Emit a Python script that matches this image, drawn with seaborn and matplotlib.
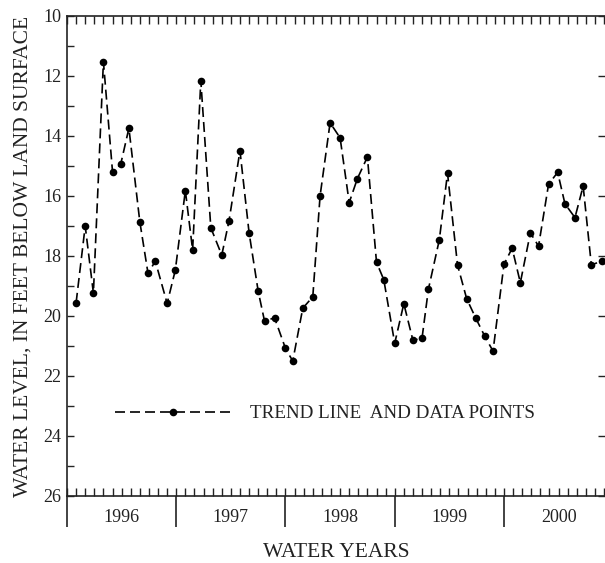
import numpy as np
import pandas as pd
import matplotlib
matplotlib.use("Agg")
import matplotlib.pyplot as plt
import seaborn as sns

#------------------------------------------------Datos------------------------------------------------

# months since start of water year 1996 (Oct 1995)
months = [1.0, 2.0, 2.9, 4.0, 5.0, 5.9, 6.8, 8.0, 8.9, 9.7,
          11.0, 11.9, 13.0, 13.8, 14.7, 15.8, 17.0, 17.8, 19.0, 20.0,
          21.0, 21.7, 22.8, 24.0, 24.8, 25.9, 27.0, 27.8, 28.9, 30.0,
          31.0, 31.9, 33.0, 34.0, 34.8, 36.0, 37.0, 38.0, 39.0, 39.7,
          40.9, 41.8, 42.9, 43.9, 44.9, 45.9, 46.8, 48.0, 48.9, 49.8,
          50.9, 51.8, 52.9, 53.9, 54.7, 55.8, 56.7, 57.6, 58.8]

levels = [19.56, 17.0, 19.24, 11.52, 15.19, 14.94, 13.74, 16.86, 18.58, 18.17,
          19.58, 18.47, 15.82, 17.8, 12.16, 17.06, 17.97, 16.83, 14.49, 17.22,
          19.17, 20.17, 20.06, 21.08, 21.5, 19.74, 19.36, 16.0, 13.56, 14.06,
          16.22, 15.42, 14.7, 18.21, 18.79, 20.91, 19.59, 20.81, 20.74, 19.11,
          17.46, 15.24, 18.3, 19.42, 20.07, 20.68, 21.17, 18.28, 17.74, 18.89,
          17.23, 17.67, 15.61, 15.21, 16.26, 16.72, 15.67, 18.3, 18.16]

water_years = ["1996", "1997", "1998", "1999", "2000"]

df = pd.DataFrame({"Mes": months, "Nivel": levels})

#------------------------------------------------Estilo------------------------------------------------

sns.set_style("ticks")
plt.rcParams["font.family"] = ["Liberation Serif", "DejaVu Serif"]
plt.rcParams["font.size"] = 13

fig = plt.figure(figsize=(6.05, 5.63), dpi=100)
ax = fig.add_axes([67 / 605, 1 - 496 / 563, 1 - 67 / 605, (496 - 16) / 563])

#------------------------------------------------Grafico------------------------------------------------

sns.lineplot(data=df, x="Mes", y="Nivel", ax=ax, color="black", linewidth=1.2,
             marker="o", markersize=5.5, markeredgewidth=0,
             label="TREND LINE  AND DATA POINTS")
line = ax.get_lines()[0]
line.set_dashes((6, 3))
line.set_clip_on(False)

ax.set_xlim(0, 59.1)
ax.set_ylim(26, 10)

# y axis
ax.set_yticks(np.arange(10, 27, 2))
ax.set_yticks(np.arange(11, 27, 2), minor=True)
ax.tick_params(axis="y", which="major", left=True, right=True, direction="in",
               length=5, width=1, labelsize=13, pad=4, colors="#222222")
ax.tick_params(axis="y", which="minor", left=True, right=False, direction="in",
               length=5, width=1)

# x axis: months inward, year separators outward
ax.set_xticks(np.arange(0, 12 * len(water_years), 12))
ax.set_xticks(np.arange(0, 60), minor=True)
ax.xaxis.remove_overlapping_locs = False
ax.set_xticklabels([])
ax.tick_params(axis="x", which="major", bottom=True, top=False, direction="out",
               length=22.5, width=1.2, colors="#222222")
ax.tick_params(axis="x", which="minor", bottom=True, top=True, direction="in",
               length=5.5, width=1, colors="#222222")

for i, yr in enumerate(water_years):
    ax.text(12 * i + 6, -0.045, yr, transform=ax.get_xaxis_transform(),
            ha="center", va="center", fontsize=13, color="#222222")

for side in ["left", "bottom", "top"]:
    ax.spines[side].set_linewidth(1.2)
    ax.spines[side].set_color("#222222")
ax.spines["right"].set_visible(False)

ax.set_xlabel("WATER YEARS", fontsize=15.5, color="#222222", va="center")
ax.set_ylabel("WATER LEVEL, IN FEET BELOW LAND SURFACE", fontsize=15.5,
              color="#222222", va="center")
ax.yaxis.set_label_coords(-0.082, 0.5)
ax.xaxis.set_label_coords(0.5, -0.117)

leg = ax.legend(loc="center left", bbox_to_anchor=(5.26, 23.25),
                bbox_transform=ax.transData, frameon=False, borderpad=0,
                borderaxespad=0, handlelength=6.1, handletextpad=1.0,
                fontsize=13.7)
for t in leg.get_texts():
    t.set_color("#222222")

fig.savefig("out.png", dpi=100)
